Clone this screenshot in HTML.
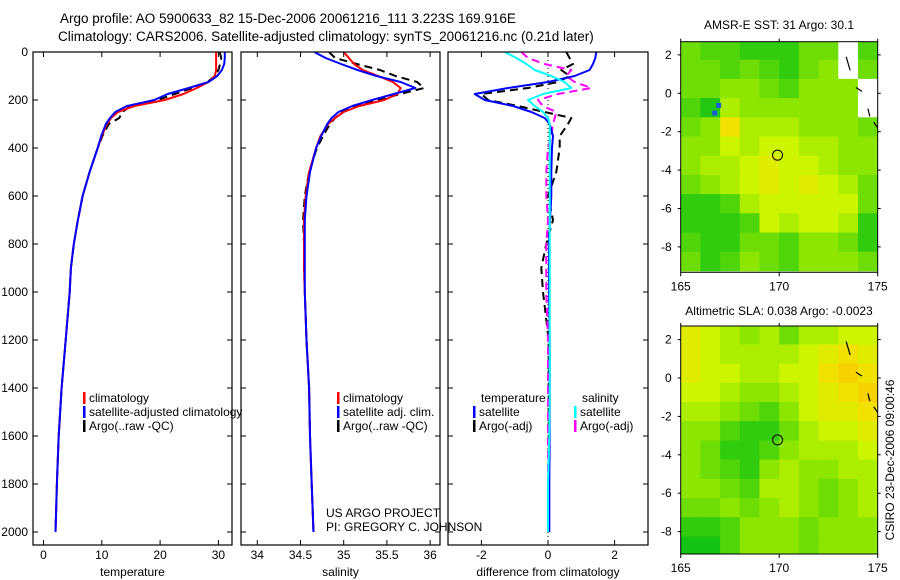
<!DOCTYPE html>
<html><head><meta charset="utf-8"><style>
html,body{margin:0;padding:0;background:#fff}
svg{display:block;font-family:"Liberation Sans",sans-serif}
</style></head><body>
<svg id="fig" width="900" height="580" viewBox="0 0 900 580">
<text x="60" y="23" font-size="13.5">Argo profile: AO 5900633_82 15-Dec-2006 20061216_111 3.223S 169.916E</text>
<text x="58" y="41" font-size="13.5">Climatology: CARS2006. Satellite-adjusted climatology: synTS_20061216.nc (0.21d later)</text>
<text x="779" y="29" font-size="12" text-anchor="middle">AMSR-E SST: 31 Argo: 30.1</text>
<text x="779" y="315" font-size="12" text-anchor="middle">Altimetric SLA: 0.038 Argo: -0.0023</text>
<text x="0" y="0" font-size="12" text-anchor="middle" transform="translate(894,460) rotate(-90)">CSIRO 23-Dec-2006 09:00:46</text>
<g id="g"></g>
</svg>
<script>
// ---- profile data ----
const depths = [0,25,50,75,100,125,150,175,200,225,250,275,300,350,400,500,600,700,800,900,1000,1200,1400,1600,1800,2000];
const tempClim = [29.6,29.6,29.6,29.6,29.4,28.3,26.3,24.0,20.8,15.6,12.8,11.6,10.9,10.0,9.3,7.9,6.7,5.9,5.2,4.7,4.5,3.8,3.1,2.6,2.3,2.05];
const tempSat  = [31.1,31.1,31.0,30.6,29.8,28.3,24.9,21.3,19.0,14.3,12.3,11.4,10.7,9.9,9.3,7.9,6.7,5.9,5.2,4.7,4.5,3.8,3.1,2.6,2.3,2.05];
const tempArgo = [30.2,30.5,30.3,30.0,29.4,28.1,25.5,22.5,19.6,15.0,13.5,13.0,11.2,10.1,9.3,7.9,6.7,5.9,5.2,4.7,4.5,3.8,3.1,2.6,2.3,2.05];
const salClim = [35.0,35.06,35.12,35.22,35.40,35.57,35.66,35.62,35.47,35.18,35.0,34.9,34.82,34.73,34.68,34.60,34.56,34.54,34.54,34.54,34.55,34.57,34.6,34.61,34.63,34.65];
const salSat  = [34.66,34.79,34.97,35.16,35.38,35.66,35.83,35.58,35.33,35.1,34.94,34.86,34.81,34.74,34.68,34.61,34.57,34.55,34.55,34.55,34.55,34.57,34.6,34.61,34.63,34.65];
const salArgo = [34.83,34.9,35.15,35.42,35.6,35.85,35.93,35.65,35.4,35.15,34.98,34.9,34.84,34.76,34.69,34.6,34.55,34.53,34.54,34.54,34.55,34.57,34.6,34.61,34.63,34.65];
const dTempSat  = [1.45,1.42,1.35,1.25,0.8,0.0,-1.2,-2.2,-1.9,-1.05,-0.5,-0.1,0.05,0.15,0.12,0.1,0.1,0.06,0.03,0.03,0.03,0.05,0.05,0.05,0.04,0.04];
const dTempArgo = [0.55,0.65,0.75,0.4,0.65,0.3,-0.6,-2.0,-1.8,-0.9,-0.1,0.7,0.6,0.35,0.35,0.25,0.0,0.15,-0.05,-0.2,-0.15,0.02,0.02,0.02,0.02,0.02];
const dSalSat  = [-1.3,-0.95,-0.65,-0.4,0.1,0.5,0.7,-0.15,-0.6,-0.4,-0.15,0.0,0.05,0.05,0.05,0.05,0.05,0.05,0.05,0.05,0.05,0.05,0.05,0.04,0.0,0.0];
const dSalArgo = [-0.8,-0.6,-0.1,0.7,0.55,0.8,1.3,0.3,-0.3,-0.15,0.25,0.2,0.15,0.1,0.0,-0.05,-0.05,0.0,-0.05,-0.05,-0.05,0.0,0.0,0.0,0.0,0.0];
const tempTicks = [0,10,20,30];
const salTicks = [34,34.5,35,35.5,36];
const diffTicks = [-2,0,2];
const depthTicks = [0,200,400,600,800,1000,1200,1400,1600,1800,2000];
// ---- map data (1-degree cells, rows from north to south, lon 165..175) ----
const mapLons = [165,166,167,168,169,170,171,172,173,174];
const mapLats = [2.75,1.75,0.75,-0.25,-1.25,-2.25,-3.25,-4.25,-5.25,-6.25,-7.25,-8.25];
const sstGrid = [
[0.3,0.2,0.2,0.1,0.1,0.1,0.3,0.3,-1,0.2],
[0.3,0.3,0.2,0.3,0.2,0.1,0.3,0.4,-1,0.3],
[0.3,0.3,0.4,0.4,0.3,0.2,0.4,0.4,0.4,-1],
[0.2,0.05,0.5,0.4,0.4,0.4,0.4,0.4,0.4,-1],
[0.3,0.4,0.8,0.5,0.5,0.5,0.4,0.4,0.4,0.3],
[0.4,0.4,0.6,0.5,0.6,0.6,0.5,0.5,0.4,0.4],
[0.4,0.5,0.5,0.6,0.7,0.6,0.6,0.5,0.4,0.4],
[0.3,0.4,0.5,0.6,0.7,0.6,0.7,0.6,0.5,0.3],
[0.1,0.1,0.2,0.5,0.6,0.6,0.6,0.6,0.6,0.3],
[0.1,0.1,0.1,0.2,0.6,0.5,0.6,0.6,0.5,0.1],
[0.2,0.1,0.1,0.3,0.3,0.2,0.4,0.4,0.3,0.1],
[0.3,0.1,0.2,0.4,0.3,0.2,0.4,0.4,0.4,0.3]];
const slaGrid = [
[0.7,0.6,0.5,0.4,0.5,0.3,0.5,0.5,0.6,0.6],
[0.7,0.6,0.5,0.5,0.5,0.5,0.6,0.7,0.8,0.7],
[0.7,0.6,0.6,0.5,0.5,0.6,0.6,0.8,0.9,0.8],
[0.6,0.6,0.5,0.4,0.4,0.5,0.6,0.7,0.8,0.9],
[0.5,0.5,0.4,0.3,0.2,0.4,0.6,0.7,0.7,0.8],
[0.4,0.4,0.2,0.1,0.1,0.3,0.5,0.6,0.6,0.7],
[0.4,0.3,0.1,0.1,0.2,0.4,0.5,0.5,0.5,0.6],
[0.4,0.3,0.2,0.1,0.4,0.5,0.4,0.4,0.5,0.5],
[0.4,0.4,0.3,0.2,0.5,0.5,0.4,0.3,0.4,0.5],
[0.3,0.3,0.4,0.3,0.4,0.5,0.4,0.3,0.4,0.5],
[0.1,0.1,0.2,0.4,0.4,0.4,0.3,0.4,0.4,0.4],
[0.0,0.0,0.2,0.4,0.4,0.4,0.3,0.4,0.4,0.4]];
const mapLonTicks = [165,170,175];
const mapLatTicks = [2,0,-2,-4,-6,-8];
const argoLon = 169.916, argoLat = -3.223;

const NS='http://www.w3.org/2000/svg';
const G=document.getElementById('g');
function mk(tag,attrs,parent){const e=document.createElementNS(NS,tag);for(const k in attrs)e.setAttribute(k,attrs[k]);(parent||G).appendChild(e);return e;}
function txt(x,y,s,size,anchor,name,parent){const t=mk('text',{x:x,y:y,'font-size':size,'text-anchor':anchor},parent);t.textContent=s;


return t;}

const Y0=52, PXM=0.24, YB=545;
const yD=d=>Y0+d*PXM;
const panels=[
 {x0:33,x1:232,z:43.5,k:5.83,v0:0,ticks:tempTicks,label:'temperature',name:'temperature-panel'},
 {x0:241,x1:440,z:257.3,k:86.4,v0:34,ticks:salTicks,label:'salinity',name:'salinity-panel'},
 {x0:448,x1:648,z:548,k:33.3,v0:0,ticks:diffTicks,label:'difference from climatology',name:'difference-panel'}];
panels.forEach((p,i)=>{
  p.sx=v=>p.z+(v-p.v0)*p.k;
  const g=mk('g',{'clip-path':'url(#c'+i+')'});
  
  
  const cp=mk('clipPath',{id:'c'+i});mk('rect',{x:p.x0,y:Y0,width:p.x1-p.x0,height:YB-Y0},cp);
  p.g=g;
  const box=mk('rect',{x:p.x0,y:Y0,width:p.x1-p.x0,height:YB-Y0,fill:'none',stroke:'#000','stroke-width':1.2});
  
  
  p.ticks.forEach(t=>{const x=p.sx(t);
    mk('line',{x1:x,x2:x,y1:YB,y2:YB-5,stroke:'#000'});mk('line',{x1:x,x2:x,y1:Y0,y2:Y0+5,stroke:'#000'});
    txt(x,559,String(t),12,'middle','x-tick-label');});
  txt((p.x0+p.x1)/2,576,p.label,12,'middle','x-axis-title');
  depthTicks.forEach(d=>{const y=yD(d);
    mk('line',{x1:p.x0,x2:p.x0+5,y1:y,y2:y,stroke:'#000'});mk('line',{x1:p.x1,x2:p.x1-5,y1:y,y2:y,stroke:'#000'});
    if(i===0)txt(28,y+4,String(d),12,'end','y-tick-label');});
});
function series(p,vals,color,dash,w,name){
  const pts=depths.map((d,j)=>p.sx(vals[j]).toFixed(1)+','+yD(d).toFixed(1)).join(' ');
  const l=mk('polyline',{points:pts,fill:'none',stroke:color,'stroke-width':w,'stroke-dasharray':dash||'none','stroke-linejoin':'round'},p.g);
  
  
}
const zl=mk('line',{x1:panels[2].sx(0),x2:panels[2].sx(0),y1:Y0,y2:YB,stroke:'#000','stroke-width':1,'stroke-dasharray':'1,3'},panels[2].g);


series(panels[0],tempArgo,'#000','8,5',2,'temp-argo-line');
series(panels[0],tempClim,'#f00','',2,'temp-climatology-line');
series(panels[0],tempSat,'#00f','',2,'temp-satellite-line');
series(panels[1],salArgo,'#000','8,5',2,'salinity-argo-line');
series(panels[1],salClim,'#f00','',2,'salinity-climatology-line');
series(panels[1],salSat,'#00f','',2,'salinity-satellite-line');
series(panels[2],dTempArgo,'#000','8,5',2,'temp-diff-argo-line');
series(panels[2],dSalArgo,'#f0f','8,5',2,'salinity-diff-argo-line');
series(panels[2],dTempSat,'#00f','',2,'temp-diff-satellite-line');
series(panels[2],dSalSat,'#0ff','',2,'salinity-diff-satellite-line');

function legend(x,y,color,label,name){
  const m=mk('rect',{x:x,y:y-10,width:2.5,height:12,fill:color});
  
  
  txt(x+6,y,label,12,'start',name);
}
legend(83,402,'#f00','climatology','legend-climatology');
legend(83,416,'#00f','satellite-adjusted climatology','legend-satellite-adjusted');
legend(83,430,'#000','Argo(..raw -QC)','legend-argo');
legend(337,402,'#f00','climatology','legend-sal-climatology');
legend(337,416,'#00f','satellite adj. clim.','legend-sal-satellite');
legend(337,430,'#000','Argo(..raw -QC)','legend-sal-argo');
txt(481,402,'temperature',12,'start','legend-temperature-heading');
txt(582,402,'salinity',12,'start','legend-salinity-heading');
legend(473,416,'#00f','satellite','legend-diff-temp-satellite');
legend(473,430,'#000','Argo(-adj)','legend-diff-temp-argo');
legend(574,416,'#0ff','satellite','legend-diff-sal-satellite');
legend(574,430,'#f0f','Argo(-adj)','legend-diff-sal-argo');
txt(326,517,'US ARGO PROJECT',12,'start','project-credit');
txt(326,531,'PI: GREGORY C. JOHNSON',12,'start','pi-credit');

// ---- maps ----
const stops=[[-0.5,[0,90,230]],[0,[20,195,20]],[0.4,[140,230,0]],[0.6,[205,245,0]],[0.8,[240,225,0]],[1,[250,195,0]]];
function col(v){ if(v<-0.9)return '#fff';
  for(let i=1;i<stops.length;i++){if(v<=stops[i][0]){const a=stops[i-1],b=stops[i],t=(v-a[0])/(b[0]-a[0]);
    return 'rgb('+a[1].map((c,j)=>Math.round(c+(b[1][j]-c)*t)).join(',')+')';}}
  return 'rgb(250,195,0)';}
function drawMap(m){
  const sx=lon=>m.x0+(lon-165)*19.7, sy=lat=>m.yz-lat*m.k;
  const cp=mk('clipPath',{id:m.id});mk('rect',{x:m.x0,y:m.y0,width:197,height:m.y1-m.y0},cp);
  const g=mk('g',{'clip-path':'url(#'+m.id+')'});
  
  
  m.grid.forEach((row,r)=>row.forEach((v,c)=>{
    const x=sx(mapLons[c]), y=sy(mapLats[r]);
    const cell=mk('rect',{x:x,y:y,width:20.2,height:m.k+0.5,fill:col(v)},g);
    
    
  }));
  if(m.extra) m.extra(g,sx,sy);
  const c=mk('circle',{cx:sx(argoLon),cy:sy(argoLat),r:5,fill:'none',stroke:'#000','stroke-width':1});
  
  
  const fr=mk('rect',{x:m.x0,y:m.y0,width:197,height:m.y1-m.y0,fill:'none',stroke:'#000','stroke-width':1});
  
  
  mapLonTicks.forEach(l=>{const x=sx(l);mk('line',{x1:x,x2:x,y1:m.y1,y2:m.y1+4,stroke:'#000'});mk('line',{x1:x,x2:x,y1:m.y0,y2:m.y0-3,stroke:'#000'});
    txt(x,m.y1+18,String(l),12,'middle','map-lon-tick-label');});
  mapLatTicks.forEach(l=>{const y=sy(l);mk('line',{x1:m.x0,x2:m.x0-3,y1:y,y2:y,stroke:'#000'});mk('line',{x1:m.x0+197,x2:m.x0+200,y1:y,y2:y,stroke:'#000'});
    txt(m.x0-9,y+4,String(l),12,'end','map-lat-tick-label');});
}
function islands(g,sx,sy){
  [[173.4,1.9,173.6,1.2],[173.9,0.3,174.2,0.1],[174.5,-0.8,174.6,-1.2],[174.8,-1.5,175,-1.8]].forEach(s=>{
    const l=mk('line',{x1:sx(s[0]),y1:sy(s[1]),x2:sx(s[2]),y2:sy(s[3]),stroke:'#000','stroke-width':1.2},g);
    
    
  });
}
drawMap({id:'m1',name:'sst-map',grid:sstGrid,x0:680.7,y0:41.7,y1:272.3,yz:93.3,k:19.2,extra:(g,sx,sy)=>{
  [[166.8,-0.5],[166.6,-0.9]].forEach(p=>{const r=mk('rect',{x:sx(p[0]),y:sy(p[1]),width:5,height:5,fill:'#1a5fd8'},g);
    
    });
  islands(g,sx,sy);}});
drawMap({id:'m2',name:'sla-map',grid:slaGrid,x0:680.7,y0:326,y1:554,yz:378,k:19.2,extra:islands});
</script>
</body></html>
